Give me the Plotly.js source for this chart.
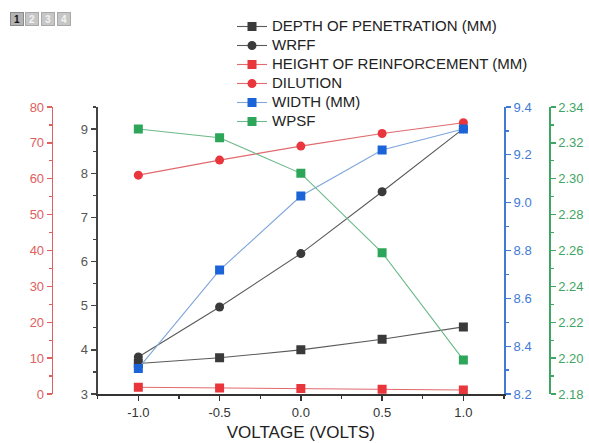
<!DOCTYPE html>
<html><head><meta charset="utf-8">
<script src="https://cdn.plot.ly/plotly-3.0.1.min.js"></script>
<style>html,body{margin:0;padding:0;background:#fff}</style>
</head><body>
<div id="chart" style="width:589px;height:443px"></div>
<script>
const voltage = [-1.0, -0.5, 0.0, 0.5, 1.0];
const xTickLabels = ['-1.0', '-0.5', '0.0', '0.5', '1.0'];
const depthOfPenetration = [3.69, 3.82, 4.00, 4.24, 4.52];
const wrff = [3.84, 4.97, 6.18, 7.58, 9.01];
const heightOfReinforcement = [1.9, 1.7, 1.5, 1.3, 1.1];
const dilution = [61.0, 65.2, 69.1, 72.6, 75.6];
const widthMM = [8.307, 8.718, 9.028, 9.22, 9.308];
const wpsf = [2.3277, 2.3229, 2.303, 2.2588, 2.199];
const seriesNames = ['DEPTH OF PENETRATION (MM)', 'WRFF', 'HEIGHT OF REINFORCEMENT (MM)', 'DILUTION', 'WIDTH (MM)', 'WPSF'];
const pageLabels = ['1', '2', '3', '4'];

const FONT = 'Liberation Sans, Arial, sans-serif';
const C_BLACK = '#3a3a3a', C_RED = '#e8363c', C_BLUE = '#1a63d8', C_GREEN = '#2ea65a';
const L_BLACK = '#5a5a5a', L_RED = '#e06a6e', L_BLUE = '#7ea6da', L_GREEN = '#6cb98a';
const AX_RED = '#e06060', AX_BLUE = '#3f7bd6', AX_GREEN = '#3fa563', AX_BLACK = '#444';

function nm(s){ return '<span style="font-size:15px">' + s + '</span>'; }
function tr(y, name, axis, lc, mc, sym){
  return {x: voltage, y: y, name: nm(name), yaxis: axis, type: 'scatter', mode: 'lines+markers',
    line: {color: lc, width: 1.1}, marker: {color: mc, size: 9, symbol: sym}};
}
const data = [
  tr(depthOfPenetration, seriesNames[0], 'y', L_BLACK, C_BLACK, 'square'),
  tr(wrff, seriesNames[1], 'y', L_BLACK, C_BLACK, 'circle'),
  tr(heightOfReinforcement, seriesNames[2], 'y2', L_RED, C_RED, 'square'),
  tr(dilution, seriesNames[3], 'y2', L_RED, C_RED, 'circle'),
  tr(widthMM, seriesNames[4], 'y3', L_BLUE, C_BLUE, 'square'),
  tr(wpsf, seriesNames[5], 'y4', L_GREEN, C_GREEN, 'square')
];

function yax(color, range, dtick, minor, fmt, extra){
  return Object.assign({range: range, dtick: dtick, tick0: range[0], tickformat: fmt,
    showline: true, linecolor: color, linewidth: 1.6, ticks: 'outside', ticklen: 5, tickwidth: 1.3, tickcolor: color,
    minor: {dtick: minor, ticks: 'outside', ticklen: 3, tickwidth: 1.2, tickcolor: color},
    tickfont: {family: FONT, size: 13, color: color}, showgrid: false, zeroline: false, fixedrange: true}, extra);
}

const annotations = pageLabels.map((p, i) => ({
  xref: 'paper', yref: 'paper', x: (16.5 + i*15.7 - 40)/519, y: 1 + (107-19.5)/287,
  text: '<b>' + p + '</b>', showarrow: false, xanchor: 'center', yanchor: 'middle',
  font: {family: FONT, size: 10, color: i === 0 ? '#111' : '#f2f2f2'},
  bgcolor: i === 0 ? '#b4b4b4' : '#c6c6c6', bordercolor: i === 0 ? '#8a8a8a' : '#a8a8a8', borderwidth: 1,
  width: 12, height: 12, borderpad: 0
}));

const layout = {
  width: 589, height: 443,
  margin: {l: 40, r: 30, t: 107, b: 49},
  paper_bgcolor: '#fff', plot_bgcolor: '#fff',
  font: {family: FONT, color: '#222'},
  showlegend: true,
  legend: {x: (232-40)/519, y: 1 + (107-12)/287, xanchor: 'left', yanchor: 'top',
    font: {family: FONT, size: 12, color: '#222'}, bgcolor: 'rgba(0,0,0,0)', tracegroupgap: 0},
  xaxis: {domain: [(97.7-40)/519, (504-40)/519], range: [-1.25, 1.25], tickmode: 'array', tickvals: voltage, ticktext: xTickLabels,
    showline: true, linecolor: '#333', linewidth: 2, ticks: 'outside', ticklen: 5, tickwidth: 1.3, tickcolor: '#333',
    minor: {tickmode: 'linear', tick0: -1, dtick: 0.25, ticks: 'outside', ticklen: 3, tickwidth: 1.2, tickcolor: '#333'},
    tickfont: {family: FONT, size: 13, color: '#333'}, showgrid: false, zeroline: false,
    title: {text: 'VOLTAGE (VOLTS)', font: {family: FONT, size: 17, color: '#222'}, standoff: 8}},
  yaxis: yax(AX_BLACK, [3, 9.5], 1, 0.5, 'd', {linewidth: 2, tickfont: {family: FONT, size: 13, color: '#555'}}),
  yaxis2: yax(AX_RED, [0, 80], 10, 5, 'd', {overlaying: 'y', side: 'left', anchor: 'free', position: (51.7-40)/519}),
  yaxis3: yax(AX_BLUE, [8.2, 9.4], 0.2, 0.1, '.1f', {overlaying: 'y', side: 'right', anchor: 'x', linewidth: 2}),
  yaxis4: yax(AX_GREEN, [2.18, 2.34], 0.02, 0.01, '.2f', {overlaying: 'y', side: 'right', anchor: 'free', position: (549-40)/519}),
  annotations: annotations
};
Plotly.newPlot('chart', data, layout, {displayModeBar: false, staticPlot: true});
</script>
</body></html>
